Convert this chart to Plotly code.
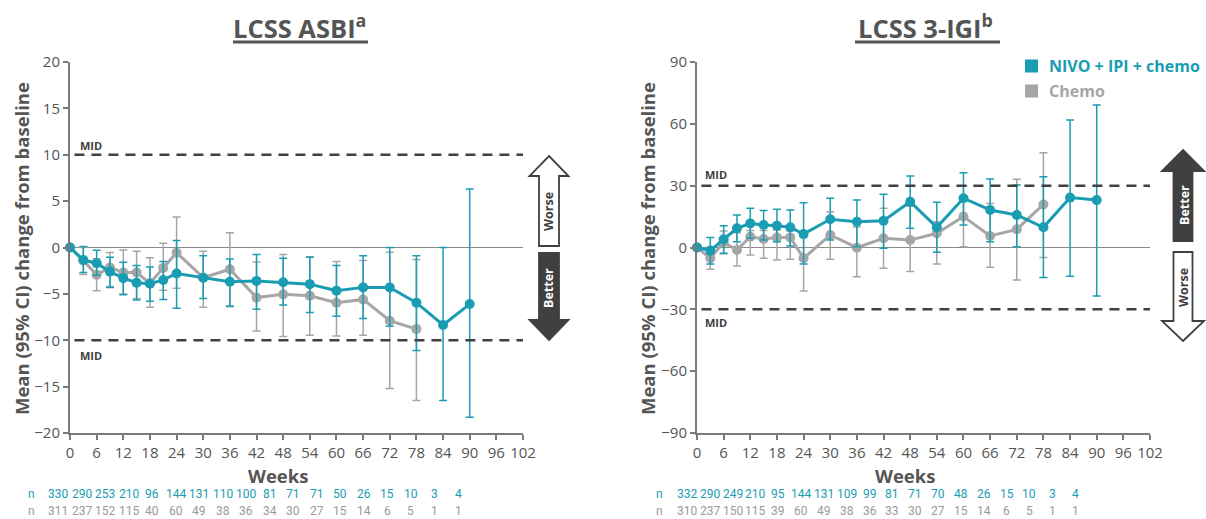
import plotly.graph_objects as go
import numpy as np

W, H = 1206, 519
TEAL = "#1a9db3"
GREY = "#a6a6a6"
DARK = "#404040"
TXT = "#555555"
FONT = "Open Sans"
NFONT = "Roboto"

# ---------------- data ----------------
weeks_nivo = [0, 3, 6, 9, 12, 15, 18, 21, 24, 30, 36, 42, 48, 54, 60, 66, 72, 78, 84, 90]
weeks_chemo = [0, 3, 6, 9, 12, 15, 18, 21, 24, 30, 36, 42, 48, 54, 60, 66, 72, 78]

# LCSS ASBI
asbi_nivo = [0, -1.35, -1.7, -2.6, -3.3, -3.8, -3.9, -3.5, -2.8, -3.25, -3.7, -3.6, -3.75, -3.95, -4.65, -4.3, -4.3, -5.95, -8.35, -6.1]
asbi_nivo_lo = [0, -2.7, -3.0, -4.3, -5.1, -5.65, -5.8, -5.6, -6.55, -5.5, -6.3, -6.65, -6.2, -7.0, -7.4, -7.65, -8.5, -11.1, -16.5, -18.3]
asbi_nivo_hi = [0, 0.1, -0.3, -1.05, -1.6, -1.95, -2.1, -1.5, 0.75, -0.9, -1.25, -0.75, -1.15, -1.05, -1.95, -0.9, 0.0, -0.9, 0.0, 6.3]
asbi_chemo = [0, -1.4, -2.95, -2.15, -2.7, -2.7, -3.85, -2.2, -0.55, -3.25, -2.35, -5.4, -5.05, -5.2, -5.95, -5.6, -7.9, -8.8]
asbi_chemo_lo = [0, -2.9, -4.65, -4.2, -5.0, -5.5, -6.45, -4.6, -4.4, -6.45, -6.4, -9.0, -9.6, -9.45, -9.55, -9.45, -15.2, -16.5]
asbi_chemo_hi = [0, 0.0, -1.2, -0.55, -0.27, -0.4, -1.1, 0.45, 3.3, -0.4, 1.6, -1.55, -0.75, -1.0, -1.5, -1.4, -0.5, -1.3]

# LCSS 3-IGI
igi_nivo = [0, -1.5, 4.0, 9.3, 11.7, 10.9, 10.6, 9.8, 6.5, 13.7, 12.5, 13.0, 22.2, 9.8, 23.9, 18.2, 15.8, 9.8, 24.2, 23.0]
igi_nivo_lo = [0, -8.0, -2.8, 2.8, 4.5, 3.6, 2.8, 0.7, -8.0, 3.6, 0.4, -0.4, 9.3, -2.3, 10.9, 2.8, 0.4, -14.5, -14.0, -23.5]
igi_nivo_hi = [0, 4.8, 10.6, 15.8, 19.0, 17.9, 18.5, 18.2, 21.7, 23.9, 23.0, 25.8, 34.7, 21.9, 36.3, 33.2, 30.3, 34.3, 61.9, 69.1]
igi_chemo = [0, -5.2, 2.5, -1.2, 5.2, 4.1, 4.8, 4.9, -5.2, 6.1, -0.1, 4.5, 3.6, 6.9, 15.0, 5.6, 8.8, 20.9]
igi_chemo_lo = [0, -10.6, -3.0, -9.0, -3.6, -5.2, -6.1, -5.7, -21.1, -5.7, -14.2, -10.1, -11.7, -8.0, 0.4, -9.6, -15.8, -4.8]
igi_chemo_hi = [0, 0.0, 8.0, 7.2, 8.2, 8.2, 8.5, 8.0, 5.0, 17.4, 10.0, 19.0, 20.0, 12.5, 30.0, 21.4, 33.1, 46.0]

# numbers at risk
asbi_n_nivo = [330, 290, 253, 210, 96, 144, 131, 110, 100, 81, 71, 71, 50, 26, 15, 10, 3, 4]
asbi_n_chemo = [311, 237, 152, 115, 40, 60, 49, 38, 36, 34, 30, 27, 15, 14, 6, 5, 1, 1]
igi_n_nivo = [332, 290, 249, 210, 95, 144, 131, 109, 99, 81, 71, 70, 48, 26, 15, 10, 3, 4]
igi_n_chemo = [310, 237, 150, 115, 39, 60, 49, 38, 36, 33, 30, 27, 15, 14, 6, 5, 1, 1]

x_ticks = list(range(0, 103, 6))
asbi_yticks = [-20, -15, -10, -5, 0, 5, 10, 15, 20]
igi_yticks = [-90, -60, -30, 0, 30, 60, 90]
mid_asbi = 10
mid_igi = 30

# ---------------- helpers ----------------
def px(x):
    return x / W

def py(y):
    return 1 - y / H

fig = go.Figure()

def add_series(xs, ys, lo, hi, color, xa, ya):
    ys = np.array(ys); lo = np.array(lo); hi = np.array(hi)
    fig.add_trace(go.Scatter(
        x=xs, y=ys, mode="lines+markers", xaxis=xa, yaxis=ya,
        line=dict(color=color, width=3),
        marker=dict(color=color, size=10),
        error_y=dict(type="data", symmetric=False, array=hi - ys, arrayminus=ys - lo,
                     color=color, thickness=1.5, width=4),
        cliponaxis=False, showlegend=False, hoverinfo="x+y"))

add_series(weeks_chemo, asbi_chemo, asbi_chemo_lo, asbi_chemo_hi, GREY, "x", "y")
add_series(weeks_nivo, asbi_nivo, asbi_nivo_lo, asbi_nivo_hi, TEAL, "x", "y")
add_series(weeks_chemo, igi_chemo, igi_chemo_lo, igi_chemo_hi, GREY, "x2", "y2")
add_series(weeks_nivo, igi_nivo, igi_nivo_lo, igi_nivo_hi, TEAL, "x2", "y2")

ydom = [py(433), py(62)]
axis_common = dict(showline=True, linecolor="#7a7a7a", linewidth=2, ticks="outside",
                   ticklen=5, tickwidth=1.5, tickcolor="#7a7a7a", showgrid=False,
                   zeroline=False, tickfont=dict(family=FONT, size=15, color=TXT))
fig.update_layout(
    width=W, height=H, margin=dict(l=0, r=0, t=0, b=0, autoexpand=False),
    paper_bgcolor="white", plot_bgcolor="white",
    font=dict(family=FONT, color=TXT),
    xaxis=dict(domain=[px(70), px(523)], range=[0, 102], tickvals=x_ticks,
               anchor="y", **axis_common),
    yaxis=dict(domain=ydom, range=[-20, 20], tickvals=asbi_yticks, anchor="x", **axis_common),
    xaxis2=dict(domain=[px(697), px(1150)], range=[0, 102], tickvals=x_ticks,
                anchor="y2", **axis_common),
    yaxis2=dict(domain=ydom, range=[-90, 90], tickvals=igi_yticks, anchor="x2", **axis_common),
)

shapes = []
ann = []

# zero & MID lines
for xr, yr, mid in (("x", "y", mid_asbi), ("x2", "y2", mid_igi)):
    shapes.append(dict(type="line", xref=xr, yref=yr, x0=0, x1=103, y0=0, y1=0,
                       line=dict(color="#8a8a8a", width=1.2), layer="below"))
    for m in (mid, -mid):
        shapes.append(dict(type="line", xref=xr, yref=yr, x0=1, x1=103, y0=m, y1=m,
                           line=dict(color=DARK, width=2.5, dash="10px,7px")))

# MID labels
for (x, y) in ((78, 145), (78, 355), (703, 175), (703, 322)):
    ann.append(dict(text="<b>MID</b>", x=px(x), y=py(y), xref="paper", yref="paper",
                    xanchor="left", yanchor="middle", showarrow=False,
                    font=dict(family=FONT, size=11, color=DARK)))

# arrows
def arrow(cx, tip, hb, end, hw, sw, fill):
    pts = [(cx, tip), (cx + hw, hb), (cx + sw, hb), (cx + sw, end), (cx - sw, end),
           (cx - sw, hb), (cx - hw, hb)]
    path = "M " + " L ".join(f"{px(a):.5f},{py(b):.5f}" for a, b in pts) + " Z"
    shapes.append(dict(type="path", xref="paper", yref="paper", path=path,
                       fillcolor=fill, line=dict(color=DARK, width=1.8)))

arrow(549, 156, 176, 246, 19.5, 10, "white")
arrow(549, 340, 320, 253, 19.5, 10, DARK)
arrow(1183, 150, 171, 241, 21, 9.5, DARK)
arrow(1183, 341, 321, 252, 21, 9.5, "white")

for (x, y, t, c) in ((549, 212, "Worse", DARK), (549, 288, "Better", "white"),
                     (1184, 205, "Better", "white"), (1184, 288, "Worse", DARK)):
    ann.append(dict(text=f"<b>{t}</b>", x=px(x), y=py(y), xref="paper", yref="paper",
                    xanchor="center", yanchor="middle", showarrow=False, textangle=-90,
                    font=dict(family=FONT, size=12.5, color=c)))

# titles
for (cx, t, u0, u1) in ((299, "LCSS ASBI<sup>a</sup>", 233, 368),
                        (926, "LCSS 3-IGI<sup>b</sup>", 855, 1000)):
    ann.append(dict(text=f"<b>{t}</b>", x=px(cx), y=py(26), xref="paper", yref="paper",
                    xanchor="center", yanchor="middle", showarrow=False,
                    font=dict(family=FONT, size=25.5, color=TXT)))
    shapes.append(dict(type="line", xref="paper", yref="paper", x0=px(u0), x1=px(u1),
                       y0=py(42), y1=py(42), line=dict(color=TXT, width=3)))

# y-axis titles
for x in (22, 648):
    ann.append(dict(text="<b>Mean (95% CI) change from baseline</b>", x=px(x), y=py(249),
                    xref="paper", yref="paper", xanchor="center", yanchor="middle",
                    showarrow=False, textangle=-90,
                    font=dict(family=FONT, size=18.5, color=TXT)))

# x-axis titles
for x in (278, 905):
    ann.append(dict(text="<b>Weeks</b>", x=px(x), y=py(475), xref="paper", yref="paper",
                    xanchor="center", yanchor="middle", showarrow=False,
                    font=dict(family=FONT, size=18.5, color=TXT)))

# numbers at risk
def n_rows(n_label_x, first_x, last_x, top, bottom):
    xs = np.linspace(first_x, last_x, len(top))
    for lbl_y, vals, col in ((494, top, TEAL), (511, bottom, "#9a9a9a")):
        ann.append(dict(text="n", x=px(n_label_x), y=py(lbl_y), xref="paper", yref="paper",
                        xanchor="center", yanchor="middle", showarrow=False,
                        font=dict(family=NFONT, size=12, color=col)))
        for xv, v in zip(xs, vals):
            ann.append(dict(text=str(v), x=px(xv), y=py(lbl_y), xref="paper", yref="paper",
                            xanchor="center", yanchor="middle", showarrow=False,
                            font=dict(family=NFONT, size=12, color=col)))

n_rows(31, 58, 458, asbi_n_nivo, asbi_n_chemo)
n_rows(659, 687, 1075, igi_n_nivo, igi_n_chemo)

# legend
for (y, t, c) in ((66, "NIVO + IPI + chemo", TEAL), (91, "Chemo", GREY)):
    shapes.append(dict(type="rect", xref="paper", yref="paper", x0=px(1025), x1=px(1038),
                       y0=py(y - 6.5), y1=py(y + 6.5), fillcolor=c, line=dict(width=0)))
    ann.append(dict(text=f"<b>{t}</b>", x=px(1047), y=py(y), xref="paper", yref="paper",
                    xanchor="left", yanchor="middle", showarrow=False,
                    font=dict(family=FONT, size=16, color=c)))

fig.update_layout(shapes=shapes, annotations=ann)
fig.write_html("out.html",
               post_script="document.body.style.margin='0';document.body.style.overflow='hidden';")
